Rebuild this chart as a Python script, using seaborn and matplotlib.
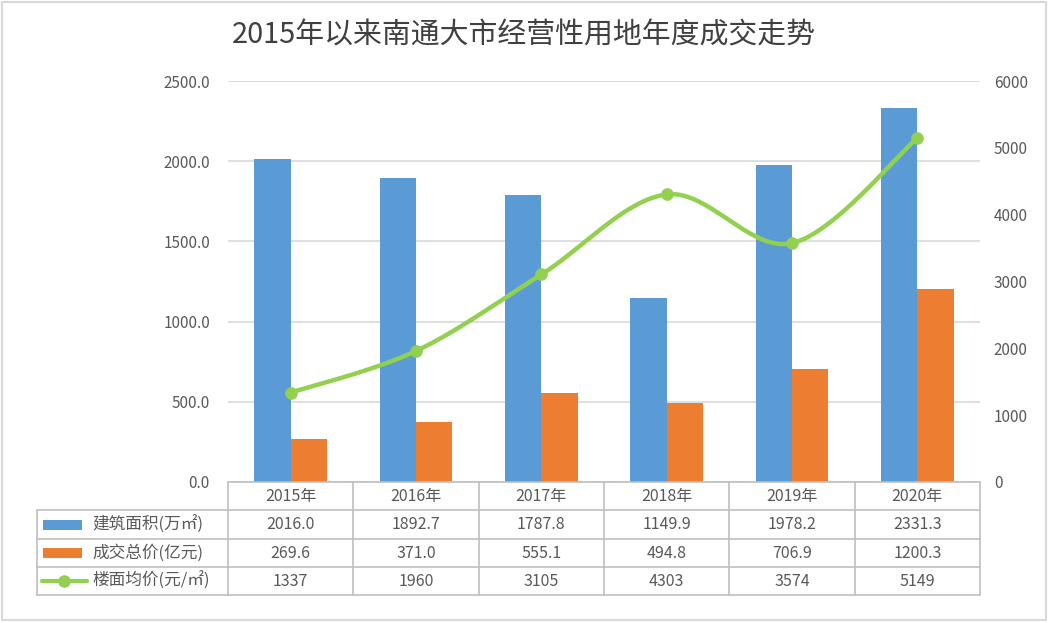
import numpy as np
import pandas as pd
import matplotlib
matplotlib.use("Agg")
import matplotlib.pyplot as plt
import matplotlib.transforms as mtransforms
from matplotlib.lines import Line2D
from matplotlib.patches import Rectangle
import seaborn as sns

# data
years = ['2015年', '2016年', '2017年', '2018年', '2019年', '2020年']
area = [2016.0, 1892.7, 1787.8, 1149.9, 1978.2, 2331.3]      # 建筑面积(万㎡)
total = [269.6, 371.0, 555.1, 494.8, 706.9, 1200.3]          # 成交总价(亿元)
price = [1337, 1960, 3105, 4303, 3574, 5149]                 # 楼面均价(元/㎡)
series_names = ['建筑面积(万㎡)', '成交总价(亿元)', '楼面均价(元/㎡)']

blue, orange, green = '#5B9BD5', '#ED7D31', '#92D050'
txt = '#595959'
grid_c = '#D9D9D9'
W, H = 1048, 622

sns.set_style('white')
plt.rcParams['font.family'] = ['Noto Sans CJK SC', 'DejaVu Sans']


def smooth(xs, ys, n=40):
    # excel-like smoothed line (cubic bezier, catmull-rom control points)
    xs, ys = np.asarray(xs, float), np.asarray(ys, float)
    px = np.concatenate([[xs[0]], xs, [xs[-1]]])
    py = np.concatenate([[ys[0]], ys, [ys[-1]]])
    outx, outy = [], []
    t = np.linspace(0, 1, n)
    for i in range(1, len(px) - 2):
        p0 = np.array([px[i], py[i]])
        p3 = np.array([px[i + 1], py[i + 1]])
        c1 = p0 + (np.array([px[i + 1], py[i + 1]]) - np.array([px[i - 1], py[i - 1]])) / 6
        c2 = p3 - (np.array([px[i + 2], py[i + 2]]) - np.array([px[i], py[i]])) / 6
        b = ((1 - t) ** 3)[:, None] * p0 + (3 * (1 - t) ** 2 * t)[:, None] * c1 \
            + (3 * (1 - t) * t ** 2)[:, None] * c2 + (t ** 3)[:, None] * p3
        outx.extend(b[:, 0]); outy.extend(b[:, 1])
    return np.array(outx), np.array(outy)


bars = pd.DataFrame({
    'year': years * 2,
    'value': area + total,
    'series': [series_names[0]] * 6 + [series_names[1]] * 6,
})

fig = plt.figure(figsize=(W / 100, H / 100), dpi=100)
ax = fig.add_axes([228 / W, 1 - 482 / H, 752 / W, 401 / H])

sns.barplot(data=bars, x='year', y='value', hue='series', palette=[blue, orange],
            width=0.58, saturation=1, linewidth=0, legend=False, ax=ax, zorder=2)
ax.set_xlim(-0.5, 5.5)
ax.set_ylim(0, 2500)
ax.set_yticks(np.arange(0, 2501, 500))
ax.set_yticklabels([f'{v:.1f}' for v in np.arange(0, 2501, 500)])
ax.yaxis.grid(True, color=grid_c, lw=1.2, zorder=0)
ax.set_axisbelow(True)
ax.set_xticks([])
ax.set_xlabel(None)
ax.set_ylabel(None)
ax.tick_params(axis='y', length=0, pad=13, labelsize=11, labelcolor=txt)
for s in ax.spines.values():
    s.set_visible(False)

ax2 = ax.twinx()
sx, sy = smooth(range(6), price)
sns.lineplot(x=sx, y=sy, color=green, lw=3.2, ax=ax2, sort=False, zorder=3)
sns.scatterplot(x=range(6), y=price, color=green, s=70, edgecolor=green, ax=ax2, zorder=4)
ax2.set_ylim(0, 6000)
ax2.set_yticks(np.arange(0, 6001, 1000))
ax2.set_yticklabels([f'{v:d}' for v in np.arange(0, 6001, 1000)])
ax2.tick_params(axis='y', length=0, pad=10, labelsize=11, labelcolor=txt)
for s in ax2.spines.values():
    s.set_visible(False)

fig.suptitle('2015年以来南通大市经营性用地年度成交走势', x=0.5, y=1 - 35 / H,
             fontsize=20.8, color='#404040', va='center')

# data table under the plot
tb = mtransforms.blended_transform_factory(ax.transData, fig.transFigure)
ff = fig.transFigure
tc = '#BFBFBF'
row_y = [482, 510, 539, 567, 595]


def fy(y):
    return 1 - y / H


for y in row_y:
    if y != 482:
        fig.add_artist(Line2D([37 / W, 228 / W], [fy(y), fy(y)], color=tc, lw=1.2, transform=ff))
    fig.add_artist(Line2D([-0.5, 5.5], [fy(y), fy(y)], color=tc, lw=1.2, transform=tb))
for i in range(7):
    fig.add_artist(Line2D([i - 0.5, i - 0.5], [fy(482), fy(595)], color=tc, lw=1.2, transform=tb))
fig.add_artist(Line2D([37 / W, 37 / W], [fy(510), fy(595)], color=tc, lw=1.2, transform=ff))

rows = [[f'{v:.1f}' for v in area], [f'{v:.1f}' for v in total], [f'{v:d}' for v in price]]
for i, yr in enumerate(years):
    fig.text(i, fy(496), yr, transform=tb, ha='center', va='center', fontsize=11.5, color=txt)
    for r, vals in enumerate(rows):
        yc = (row_y[r + 1] + row_y[r + 2]) / 2
        fig.text(i, fy(yc), vals[i], transform=tb, ha='center', va='center', fontsize=11.5, color=txt)

for r, name in enumerate(series_names):
    yc = (row_y[r + 1] + row_y[r + 2]) / 2
    fig.text(92 / W, fy(yc), name, ha='left', va='center', fontsize=12, color=txt)
    if r < 2:
        fig.add_artist(Rectangle((43 / W, fy(yc + 5)), 39 / W, 10 / H, transform=ff,
                                 facecolor=[blue, orange][r], edgecolor='none'))
    else:
        fig.add_artist(Line2D([42 / W, 87 / W], [fy(yc), fy(yc)], color=green, lw=3, transform=ff))
        fig.add_artist(Line2D([64 / W], [fy(yc)], color=green, marker='o', ms=8, transform=ff))

# chart border
fig.add_artist(Rectangle((0.002, 0.003), 0.996, 0.994, transform=ff, fill=False,
                         edgecolor='#D9D9D9', lw=1.5))

fig.savefig('out.png', dpi=100)
